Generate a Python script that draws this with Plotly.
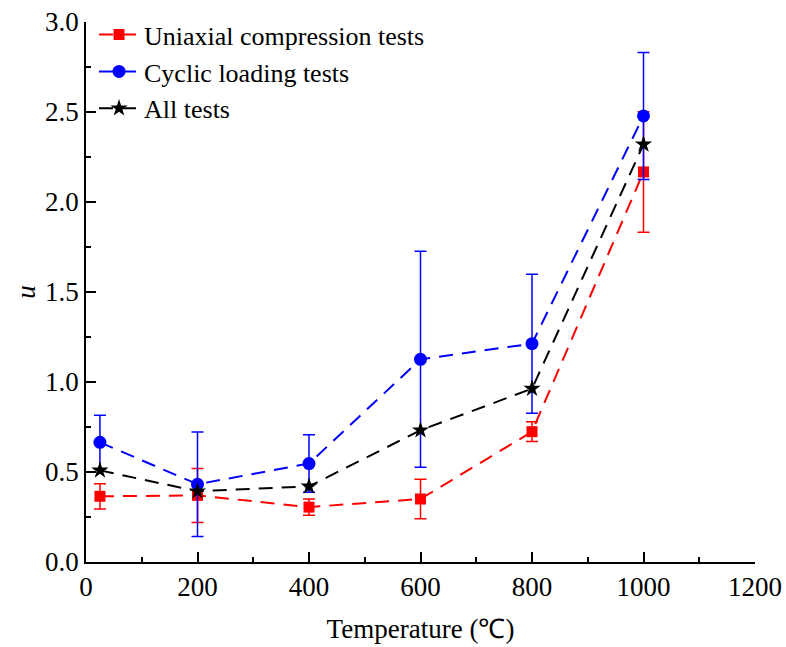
import plotly.graph_objects as go

temps = [25, 200, 400, 600, 800, 1000]

uni_vals = [0.365, 0.37, 0.305, 0.35, 0.724, 2.167]
uni_err = [0.07, 0.15, 0.045, 0.11, 0.055, 0.335]

cyc_vals = [0.665, 0.432, 0.547, 1.126, 1.213, 2.478]
cyc_err = [0.15, 0.29, 0.16, 0.60, 0.386, 0.353]

all_vals = [0.509, 0.393, 0.42, 0.732, 0.963, 2.32]

font_family = "Liberation Serif, Times New Roman, serif"
FS = 28

fig = go.Figure()

fig.add_trace(go.Scatter(
    x=temps, y=uni_vals, name="Uniaxial compression tests",
    mode="lines+markers",
    line=dict(color="#ff0000", width=2, dash="14px,9px"),
    marker=dict(symbol="square", size=11, color="#ff0000"),
    error_y=dict(type="data", array=uni_err, visible=True, color="#ff0000",
                 thickness=1.5, width=6),
))
fig.add_trace(go.Scatter(
    x=temps, y=cyc_vals, name="Cyclic loading tests",
    mode="lines+markers",
    line=dict(color="#0000ff", width=2, dash="14px,9px"),
    marker=dict(symbol="circle", size=13, color="#0000ff"),
    error_y=dict(type="data", array=cyc_err, visible=True, color="#0000ff",
                 thickness=1.5, width=6),
))
fig.add_trace(go.Scatter(
    x=temps, y=all_vals, name="All tests",
    mode="lines+markers",
    line=dict(color="#000000", width=2, dash="14px,9px"),
    marker=dict(symbol="star", size=13, color="#000000"),
))

fig.update_layout(
    width=786, height=647,
    margin=dict(l=86, r=31, t=22, b=85, autoexpand=False),
    paper_bgcolor="white", plot_bgcolor="white",
    font=dict(family=font_family, size=FS, color="black"),
    showlegend=True,
    legend=dict(x=0.012, y=1.02, xanchor="left", yanchor="top",
                bgcolor="rgba(0,0,0,0)", font=dict(size=FS - 2, family=font_family),
                tracegroupgap=0, itemwidth=40),
    xaxis=dict(
        range=[0, 1200], tickvals=[0, 200, 400, 600, 800, 1000, 1200],
        ticks="inside", ticklen=10, tickwidth=1.5, tickcolor="black",
        minor=dict(tickvals=[100, 300, 500, 700, 900, 1100], ticks="inside",
                   ticklen=5, tickwidth=1.5, tickcolor="black"),
        showline=True, linecolor="black", linewidth=1.5,
        showgrid=False, zeroline=False, automargin=False,
        title=dict(text="Temperature (℃)", font=dict(size=FS - 1, family=font_family), standoff=18),
        tickfont=dict(size=FS - 1, family=font_family),
    ),
    yaxis=dict(
        range=[0, 3.0], tickvals=[0, 0.5, 1.0, 1.5, 2.0, 2.5, 3.0],
        ticktext=["0.0", "0.5", "1.0", "1.5", "2.0", "2.5", "3.0"],
        ticks="inside", ticklen=10, tickwidth=1.5, tickcolor="black",
        minor=dict(tickvals=[0.25, 0.75, 1.25, 1.75, 2.25, 2.75], ticks="inside",
                   ticklen=5, tickwidth=1.5, tickcolor="black"),
        showline=True, linecolor="black", linewidth=1.5,
        showgrid=False, zeroline=False, automargin=False,
        title=dict(text="<i>u</i>", font=dict(size=FS - 1, family=font_family), standoff=2),
        tickfont=dict(size=FS - 1, family=font_family),
    ),
)

fig.write_html("out.html")
